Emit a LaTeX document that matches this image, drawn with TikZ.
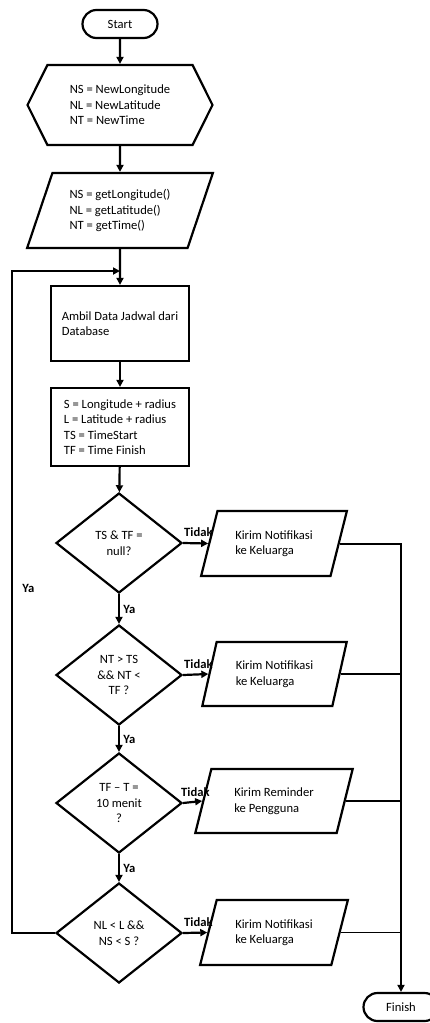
\documentclass[tikz,border=0pt]{standalone}
\usepackage{fontspec}
\setmainfont{Carlito}
\usetikzlibrary{arrows.meta,positioning,shapes.geometric,shapes.symbols,shapes.misc}
\tikzset{font=\fontsize{12.6}{15.5}\selectfont}
\tikzstyle{term}=[draw,line width=2.2pt,rounded corners=14pt,minimum width=75pt,minimum height=28pt,inner sep=0pt]
\tikzstyle{hexa}=[draw,line width=2.2pt,signal,signal to=west and east,signal pointer angle=127,minimum width=185pt,minimum height=80pt,align=left,inner sep=0pt]
\tikzstyle{io}=[draw,line width=2.2pt,trapezium,trapezium stretches=true,align=left,inner sep=0pt]
\tikzstyle{proc}=[draw,line width=2.2pt,rectangle,minimum width=138pt,align=left,inner sep=0pt]
\tikzstyle{dec}=[draw,line width=2.2pt,diamond,minimum width=126pt,minimum height=100pt,align=center,inner sep=0pt]
\tikzstyle{lbl}=[font=\fontsize{12.6}{15}\selectfont\bfseries]
\tikzstyle{nolbl}=[lbl,pos=0,anchor=south west,inner xsep=0pt,inner ysep=5pt]

\begin{document}
\begin{tikzpicture}[x=1pt,y=-1pt,>={Triangle[length=7pt,width=7pt]}]
\useasboundingbox (0,0) rectangle (430,1023);
\node[term] (A) at (120,24) {Start};
\node[hexa] (B) at (120,105) {NS = NewLongitude\\NL = NewLatitude\\NT = NewTime};
\node[io,trapezium left angle=66,trapezium right angle=114,minimum width=186pt,minimum height=75pt] (C) at (120,210.5) {NS = getLongitude()\\NL = getLatitude()\\NT = getTime()};
\node[proc,minimum height=75pt] (D) at (120,323.5) {Ambil Data Jadwal dari\\Database};
\node[proc,minimum height=78pt] (E) at (120,427) {S = Longitude + radius\\L = Latitude + radius\\TS = TimeStart\\TF = Time Finish};
\node[dec] (F) at (119,543) {TS \& TF =\\null?};
\node[dec] (G) at (119,675) {NT > TS\\\&\& NT <\\TF ?};
\node[dec] (H) at (119,803) {TF -- T =\\10 menit\\?};
\node[dec] (I) at (119,933) {NL < L \&\&\\NS < S ?};
\node[io,trapezium left angle=67,trapezium right angle=113,minimum width=146pt,minimum height=65pt] (J) at (274,543.5) {Kirim Notifikasi\\ke Keluarga};
\node[io,trapezium left angle=70,trapezium right angle=110,minimum width=145pt,minimum height=64pt] (K) at (274.5,674) {Kirim Notifikasi\\ke Keluarga};
\node[io,trapezium left angle=69,trapezium right angle=111,minimum width=158pt,minimum height=64pt] (L) at (274,801) {Kirim Reminder\\ke Pengguna};
\node[io,trapezium left angle=67,trapezium right angle=113,minimum width=148pt,minimum height=65pt] (M) at (274,932.5) {Kirim Notifikasi\\ke Keluarga};
\node[term] (N) at (401,1007) {Finish};
\coordinate (join) at (120,271);
\coordinate (back) at (12,933);
%main line
\path[->,line width=2.2pt]
(A) edge (B)
(B) edge (C)
(C) edge (D)
(D) edge (E)
(E) edge (F)
(F) edge node[right,lbl]{Ya} (G)
(G) edge node[right,lbl]{Ya} (H)
(H) edge node[right,lbl]{Ya} (I);
%tidak branches
\path[->,line width=2.2pt]
(F.east) edge node[nolbl]{Tidak} (J.west)
(G.east) edge node[nolbl]{Tidak} (K.west)
(H.east) edge node[nolbl,xshift=-3pt]{Tidak} (L.west)
(I.east) edge node[nolbl]{Tidak} (M.west);
\draw[->,line width=2pt] (J.east) -| (N.north);
\draw[line width=1.8pt] (K.east) -- (K.east -| N.north);
\draw[line width=1.8pt] (L.east) -- (L.east -| N.north);
\draw[line width=1.8pt] (M.east) -- (M.east -| N.north);
%loop back
\draw[->,line width=2.2pt] (I.west) -- (back) |- node[pos=0.26,right,lbl,xshift=6pt]{Ya} (join);
\end{tikzpicture}
\end{document}
